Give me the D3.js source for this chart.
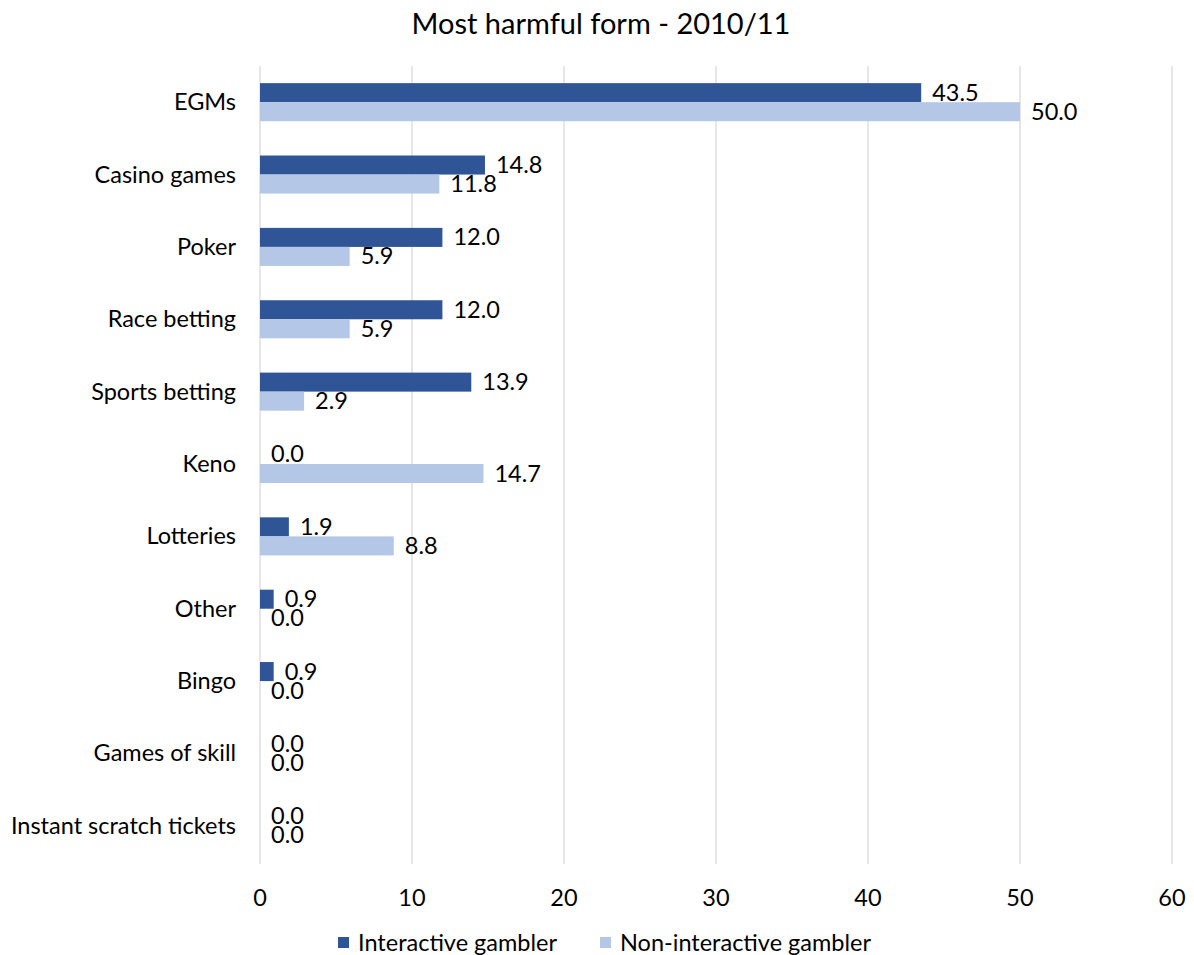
<!DOCTYPE html>
<html>
<head>
<meta charset="utf-8">
<script src="https://cdn.jsdelivr.net/npm/d3@7"></script>
<style>
  html, body { margin: 0; padding: 0; background: #fff; }
  svg { display: block; font-family: Lato, "Open Sans", sans-serif; }
</style>
</head>
<body>
<svg id="chart" width="1194" height="955"></svg>
<script>
const categories = ["EGMs", "Casino games", "Poker", "Race betting", "Sports betting", "Keno",
  "Lotteries", "Other", "Bingo", "Games of skill", "Instant scratch tickets"];
const interactive = [43.5, 14.8, 12.0, 12.0, 13.9, 0.0, 1.9, 0.9, 0.9, 0.0, 0.0];
const nonInteractive = [50.0, 11.8, 5.9, 5.9, 2.9, 14.7, 8.8, 0.0, 0.0, 0.0, 0.0];
const seriesNames = ["Interactive gambler", "Non-interactive gambler"];
const xTicks = [0, 10, 20, 30, 40, 50, 60];

const colors = ["#2F5597", "#B4C7E7"];
const svg = d3.select("#chart");
const plotLeft = 260, plotRight = 1172, plotTop = 66, plotBottom = 862;
const fs = 23.5;

const x = d3.scaleLinear().domain([0, 60]).range([plotLeft, plotRight]);
const y = d3.scaleBand().domain(categories).range([plotTop, plotBottom]);
const barH = y.step() * 0.263;

// title
svg.append("text").attr("x", 601).attr("y", 34).attr("text-anchor", "middle")
  .attr("font-size", 29).attr("fill", "#000").text("Most harmful form - 2010/11");

// vertical gridlines
svg.append("g").selectAll("line").data(xTicks).join("line")
  .attr("x1", d => x(d)).attr("x2", d => x(d))
  .attr("y1", plotTop).attr("y2", plotBottom + 2)
  .attr("stroke", "#d9d9d9").attr("stroke-width", 1.3);

// x tick labels
svg.append("g").selectAll("text").data(xTicks).join("text")
  .attr("x", d => x(d)).attr("y", 906).attr("text-anchor", "middle")
  .attr("font-size", fs).attr("fill", "#000").text(d => d);

// category labels
svg.append("g").selectAll("text").data(categories).join("text")
  .attr("x", 236).attr("y", d => y(d) + y.step() / 2 + 8).attr("text-anchor", "end")
  .attr("font-size", fs).attr("fill", "#000").text(d => d);

const series = [interactive, nonInteractive];
series.forEach((vals, si) => {
  const rows = categories.map((c, i) => ({ c, v: vals[i] }));
  const yc = d => y(d.c) + y.step() / 2 + (si === 0 ? -barH : 0);
  svg.append("g").selectAll("rect").data(rows).join("rect")
    .attr("x", x(0)).attr("y", yc)
    .attr("width", d => x(d.v) - x(0)).attr("height", barH)
    .attr("fill", colors[si]);
  svg.append("g").selectAll("text").data(rows).join("text")
    .attr("x", d => x(d.v) + 11).attr("y", d => yc(d) + barH / 2 + 8)
    .attr("font-size", fs).attr("fill", "#000").text(d => d.v.toFixed(1));
});

// legend
const legendX = [338, 600];
seriesNames.forEach((name, i) => {
  svg.append("rect").attr("x", legendX[i]).attr("y", 937).attr("width", 11).attr("height", 11)
    .attr("fill", colors[i]);
  svg.append("text").attr("x", legendX[i] + 20).attr("y", 951)
    .attr("font-size", fs).attr("fill", "#000").text(name);
});
</script>
</body>
</html>
